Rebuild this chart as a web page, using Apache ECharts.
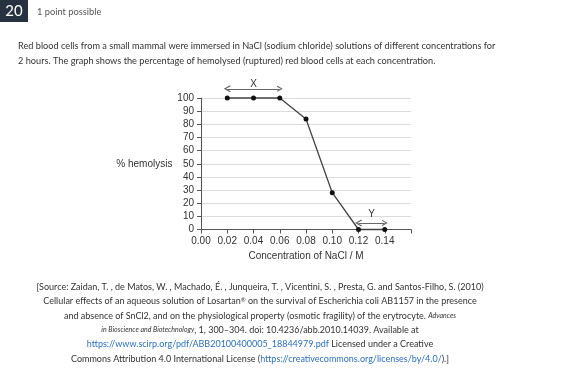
<!DOCTYPE html>
<html><head><meta charset="utf-8">
<script src="https://cdn.jsdelivr.net/npm/echarts@6/dist/echarts.min.js"></script>
<style>html,body{margin:0;padding:0;background:#fff}#c{width:581px;height:383px}</style>
</head><body><div id="c"></div>
<script>
// Data
const concentrations = [0.02, 0.04, 0.06, 0.08, 0.10, 0.12, 0.14];
const hemolysis = [100, 100, 100, 84, 28, 0, 0];
const arrowLabels = ['X', 'Y'];
const arrowFrom = [0.02, 0.12];
const arrowTo = [0.06, 0.14];
const arrowLevel = [107, 5];
const yTicks = [0, 10, 20, 30, 40, 50, 60, 70, 80, 90, 100];
const xTickLabels = ['0.00','0.02','0.04','0.06','0.08','0.10','0.12','0.14'];

const chart = echarts.init(document.getElementById('c'), null, {renderer: 'canvas'});
const bodyFont = 'Lato, "Open Sans", sans-serif';
const axisFont = '"Liberation Sans", Arial, sans-serif';

const sourceLines = [
  '[Source: Zaidan, T. , de Matos, W. , Machado, É. , Junqueira, T. , Vicentini, S. , Presta, G. and Santos-Filho, S. (2010)',
  'Cellular effects of an aqueous solution of Losartan{s|®} on the survival of Escherichia coli AB1157 in the presence',
  'and absence of SnCl2, and on the physiological property (osmotic fragility) of the erytrocyte. {i|Advances}',
  '{i|in Bioscience and Biotechnology}, 1, 300–304. doi: 10.4236/abb.2010.14039. Available at',
  '{u|https://www.scirp.org/pdf/ABB20100400005_18844979.pdf} Licensed under a Creative',
  'Commons Attribution 4.0 International License ({u|https://creativecommons.org/licenses/by/4.0/}).]'
];
const sourceY = [287, 301.5, 316, 330, 344.5, 359];

const graphics = [
  {type:'rect', shape:{x:0,y:0,width:28,height:22}, style:{fill:'#26323f'}},
  {type:'text', style:{text:'20', x:14, y:11, font:'15px ' + bodyFont, fill:'#fff', align:'center', verticalAlign:'middle'}},
  {type:'text', style:{text:'1 point possible', x:37, y:12, font:'9.3px ' + bodyFont, fill:'#555', align:'left', verticalAlign:'middle'}},
  {type:'text', style:{text:'Red blood cells from a small mammal were immersed in NaCl (sodium chloride) solutions of different concentrations for', x:18, y:46.5, font:'9.2px ' + bodyFont, fill:'#333', align:'left', verticalAlign:'middle'}},
  {type:'text', style:{text:'2 hours. The graph shows the percentage of hemolysed (ruptured) red blood cells at each concentration.', x:18, y:61, font:'9.2px ' + bodyFont, fill:'#333', align:'left', verticalAlign:'middle'}}
];
sourceLines.forEach((t, i) => {
  graphics.push({type:'text', style:{text:t, x:260, y:sourceY[i], font:'9px ' + bodyFont, fill:'#333', align:'center', verticalAlign:'middle',
    rich:{
      i:{fontStyle:'italic', fontSize:7, fontFamily:'"Liberation Sans Narrow", Lato, sans-serif', fill:'#333'},
      u:{fontSize:9, fontFamily:'Lato, sans-serif', fill:'#2f6fba'},
      s:{fontSize:6, fontFamily:'Lato, sans-serif', fill:'#333', verticalAlign:'top'}
    }}});
});

const arrowData = arrowLabels.map((lab, i) => ({
  name: lab,
  coords: [[arrowFrom[i], arrowLevel[i]], [arrowTo[i], arrowLevel[i]]],
  label: {distance: i === 0 ? 0 : 4}
}));

const chevron = 'path://M5,0 L10,8 L8.6,9 L5,3 L1.4,9 L0,8 Z';

chart.setOption({
  animation: false,
  backgroundColor: '#fff',
  grid: {left: 201, top: 98, width: 210, height: 131.5, containLabel: false},
  xAxis: {
    type: 'value', min: 0, max: 0.16, interval: 0.02,
    name: 'Concentration of NaCl / M', nameLocation: 'middle', nameGap: 22,
    nameTextStyle: {fontFamily: axisFont, fontSize: 10, color: '#333'},
    axisLine: {lineStyle: {color: '#555', width: 1}},
    axisTick: {length: 4, lineStyle: {color: '#555'}},
    axisLabel: {fontFamily: axisFont, fontSize: 10, color: '#333', margin: 7,
      formatter: v => { const i = Math.round(v / 0.02); return i < xTickLabels.length ? xTickLabels[i] : ''; }},
    splitLine: {show: false}
  },
  yAxis: {
    type: 'value', min: 0, max: 100, interval: 10,
    name: '% hemolysis', nameLocation: 'middle', nameRotate: 0, nameGap: 28,
    nameTextStyle: {fontFamily: axisFont, fontSize: 10, color: '#333', align: 'right', verticalAlign: 'middle'},
    axisLine: {show: true, lineStyle: {color: '#555', width: 1}},
    axisTick: {show: true, length: 4, lineStyle: {color: '#555'}},
    axisLabel: {fontFamily: axisFont, fontSize: 10, color: '#333', margin: 7,
      formatter: v => yTicks.includes(v) ? String(v) : ''},
    splitLine: {show: true, lineStyle: {color: '#dcdcdc', width: 1}}
  },
  series: [{
    type: 'line',
    data: concentrations.map((c, i) => [c, hemolysis[i]]),
    symbol: 'circle', symbolSize: 5,
    itemStyle: {color: '#111'},
    lineStyle: {color: '#444', width: 1.3},
    clip: false,
    z: 3
  }, {
    type: 'lines',
    coordinateSystem: 'cartesian2d',
    clip: false,
    silent: true,
    symbol: [chevron, chevron],
    symbolSize: [7, 6],
    lineStyle: {color: '#666', width: 1, opacity: 1, curveness: 0},
    label: {show: true, position: 'insideMiddleTop', formatter: '{b}', fontFamily: axisFont, fontSize: 10, color: '#333'},
    data: arrowData,
    z: 2
  }],
  graphic: graphics
});
</script></body></html>
